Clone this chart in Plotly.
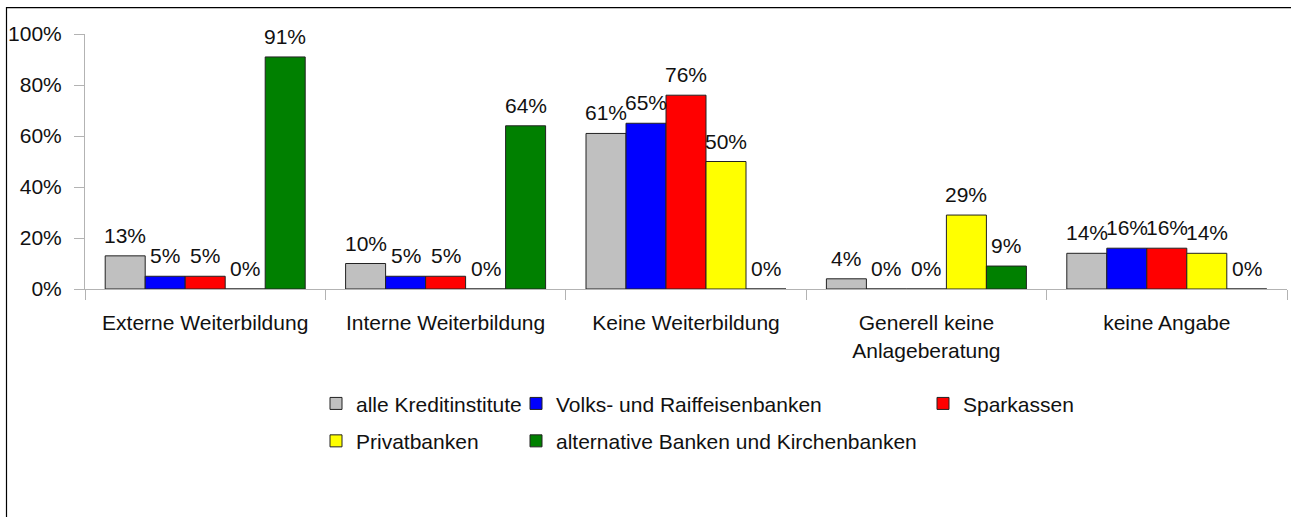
import plotly.graph_objects as go

categories = ["Externe Weiterbildung", "Interne Weiterbildung", "Keine Weiterbildung",
              "Generell keine<br>Anlageberatung", "keine Angabe"]
series_names = ["alle Kreditinstitute", "Volks- und Raiffeisenbanken", "Sparkassen",
                "Privatbanken", "alternative Banken und Kirchenbanken"]
alle = [13, 10, 61, 4, 14]
volks = [5, 5, 65, 0, 16]
spark = [5, 5, 76, 0, 16]
privat = [0, 0, 50, 29, 14]
altern = [91, 64, 0, 9, 0]
series_values = [alle, volks, spark, privat, altern]
colors = ["#c0c0c0", "#0000ff", "#ff0000", "#ffff00", "#008000"]
y_ticks = [0, 20, 40, 60, 80, 100]
y_tick_labels = ["0%", "20%", "40%", "60%", "80%", "100%"]

FONT = "Liberation Sans, Arial, sans-serif"
FS = 21

W, H = 1291, 517
L, R, T, B = 85, 4, 34, 227.5
pw = W - L - R
ph = H - T - B
n_series = len(series_names)
group_px = pw / len(categories)
bar_px = 40

def px_x(p):
    return (p - L) / pw

def px_y(p):
    return (H - B - p) / ph

# legend text start positions (px) and row centres
leg_pos = [(356, 404.5), (556, 404.5), (963, 404.5), (356, 442), (556, 442)]
legend_ids = ["legend", "legend2", "legend3", "legend4", "legend5"]

fig = go.Figure()
annotations = []
for i, (name, vals, col) in enumerate(zip(series_names, series_values, colors)):
    fig.add_trace(go.Bar(
        x=categories, y=vals, name=name,
        marker=dict(color=col, line=dict(color="#222222", width=1)),
        cliponaxis=False,
        legend=legend_ids[i],
    ))
    for cat, v in zip(categories, vals):
        annotations.append(dict(
            x=cat, y=v, xref="x", yref="y", text=f"{v}%", showarrow=False,
            xanchor="center", yanchor="bottom",
            xshift=(i - (n_series - 1) / 2) * bar_px, yshift=7,
            font=dict(family=FONT, size=FS, color="#111111"),
        ))

layout_kwargs = {}
for i, lid in enumerate(legend_ids):
    tx, ty = leg_pos[i]
    layout_kwargs[lid] = dict(
        x=px_x(tx - 40), y=px_y(ty), xanchor="left", yanchor="middle",
        orientation="v", font=dict(family=FONT, size=FS, color="#111111"),
        bgcolor="rgba(0,0,0,0)", borderwidth=0,
    )

fig.update_layout(
    width=W, height=H,
    margin=dict(l=L, r=R, t=T, b=B, pad=0),
    paper_bgcolor="white", plot_bgcolor="white",
    barmode="group", bargap=(group_px - n_series * bar_px) / group_px, bargroupgap=0,
    showlegend=True,
    font=dict(family=FONT, size=FS, color="#111111"),
    xaxis=dict(showline=True, linecolor="#b3b3b3", linewidth=1,
               ticks="outside", tickson="boundaries", ticklen=10, tickcolor="#b3b3b3",
               tickfont=dict(family=FONT, size=FS, color="#111111"),
               ticklabelstandoff=15,
               showgrid=False, zeroline=False, fixedrange=True),
    yaxis=dict(range=[0, 100], tickvals=y_ticks, ticktext=y_tick_labels,
               showline=True, linecolor="#b3b3b3", linewidth=1,
               ticks="outside", ticklen=10, tickcolor="#b3b3b3",
               tickfont=dict(family=FONT, size=FS, color="#111111"),
               ticklabelstandoff=8,
               showgrid=False, zeroline=False, fixedrange=True),
    annotations=annotations,
    shapes=[dict(type="rect", xref="paper", yref="paper",
                 x0=px_x(6.5), x1=px_x(1400), y0=px_y(700), y1=px_y(7.5),
                 line=dict(color="black", width=1.2), fillcolor="rgba(0,0,0,0)",
                 layer="above")],
    **layout_kwargs,
)

fig.write_html("out.html", config={"displayModeBar": False},
               post_script="document.body.style.margin='0';document.body.style.overflow='hidden';")
